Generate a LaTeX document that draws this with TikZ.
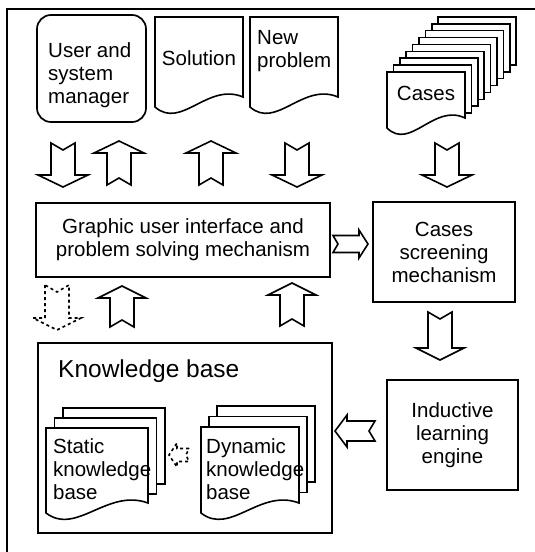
\documentclass[tikz,border=0pt]{standalone}
\usepackage{fontspec}
\setmainfont{Liberation Sans}
\tikzset{
  % hollow block arrow along +x: length, head width, shaft width, head length, tail notch
  pics/blockarrow/.style n args={5}{code={
    \draw[blk] (0,{#3/2}) -- ({#1-#4},{#3/2}) -- ({#1-#4},{#2/2}) -- (#1,0)
      -- ({#1-#4},{-#2/2}) -- ({#1-#4},{-#3/2}) -- (0,{-#3/2}) -- (#5,0) -- cycle;
  }},
}
% document sheet with a wavy lower edge: [options] left, top, right, lower-left y
\newcommand\docoutline[5][]{%
  \draw[sheet,#1] (#2,#3) -- (#4,#3) -- (#4,{#5-10})
    .. controls ({#2+0.6*(#4-#2)},{#5-25}) and ({#2+0.3*(#4-#2)},{#5+23}) .. (#2,#5) -- cycle;}
\begin{document}
\begin{tikzpicture}[x=1pt,y=-1pt,
  txt/.style={font=\fontsize{20.5}{23}\selectfont, inner sep=0pt},
  box/.style={draw, line width=1.7pt, txt, align=center},
  sheet/.style={draw, line width=1.6pt, fill=white, line join=miter},
  blk/.style={draw, line width=1.6pt, fill=white, line join=miter},
]
\useasboundingbox (0,0) rectangle (535,552);

% outer frame (top and left edges)
\draw[line width=2.2pt] (7,552) -- (7,9) -- (535,9);

% ---- top row ----
\node[draw, line width=1.7pt, rounded corners=14pt, minimum width=109pt, minimum height=107pt] (user) at (91.5,68.5) {};
\node[txt, text width=83pt, align=left, anchor=base west] (usertext) at (48,57) {User\hfill and\\system\\manager};

\docoutline{155}{17}{243}{107}
\node[txt, anchor=base] (solution) at (199,65) {Solution};

\docoutline{250}{17}{338}{107}
\node[txt, align=left, anchor=base west] (newproblem) at (257,67) {New\\problem};

\foreach \k in {8,...,1}
  \draw[sheet] ({387+6.4*\k},{72-6.9*\k}) rectangle ++(78,48);
\docoutline{387}{72}{465}{128}
\node[txt, anchor=base] (cases) at (426,100) {Cases};

% ---- arrows between top row and middle row ----
\pic[rotate=-90] at (63,143) {blockarrow={44}{50}{24}{12}{7}};
\pic[rotate=90] at (119,185) {blockarrow={44}{50}{24}{12}{7}};
\pic[rotate=90] at (211,185) {blockarrow={44}{50}{24}{12}{7}};
\pic[rotate=-90] at (297,143) {blockarrow={44}{50}{24}{12}{7}};
\pic[rotate=-90] at (447,143) {blockarrow={44}{50}{24}{12}{7}};

% ---- middle row ----
\node[box, minimum width=294pt, minimum height=74pt] (gui) at (183,240)
  {Graphic user interface and\\problem solving mechanism};
\node[box, minimum width=142pt, minimum height=100pt] (screen) at (444,252)
  {Cases\\screening\\mechanism};
\pic at (333,244) {blockarrow={35}{28}{17}{9}{5}};

% ---- arrows between middle row and knowledge base ----
\pic[rotate=-90, dashed] at (57,285) {blockarrow={45}{48}{24}{12}{7}};
\pic[rotate=90] at (122,327) {blockarrow={41}{48}{24}{12}{7}};
\pic[rotate=90] at (292,326) {blockarrow={43}{48}{24}{12}{7}};
\pic[rotate=-90] at (440,312) {blockarrow={48}{48}{24}{12}{7}};

% ---- knowledge base ----
\node[draw, line width=1.7pt, minimum width=294pt, minimum height=190pt] (kb) at (185,438) {};
\node[inner sep=0pt, font=\fontsize{24.5}{29}\selectfont, anchor=base west] (kbtitle) at (58,377) {Knowledge base};

\foreach \k in {2,1}
  \draw[sheet] ({46+8.5*\k},{428-10*\k}) rectangle ++(102,76);
\docoutline{46}{428}{148}{513}
\node[txt, align=left, anchor=base west] (static) at (53,499) {Static\\knowledge\\base};

\foreach \k in {2,1}
  \draw[sheet] ({201+8*\k},{427-10.5*\k}) rectangle ++(98,76);
\docoutline{201}{427}{299}{513}
\node[txt, align=left, anchor=base west] (dynamic) at (206,499) {Dynamic\\knowledge\\base};

\pic[rotate=180, dashed, line width=1.3pt] at (189,455) {blockarrow={20}{24}{13}{8}{3}};

% ---- inductive learning ----
\node[box, minimum width=131pt, minimum height=110pt] (induct) at (452.5,435)
  {Inductive\\learning\\engine};
\pic[rotate=180] at (375,431) {blockarrow={40}{32}{20}{12}{6}};
\end{tikzpicture}
\end{document}
